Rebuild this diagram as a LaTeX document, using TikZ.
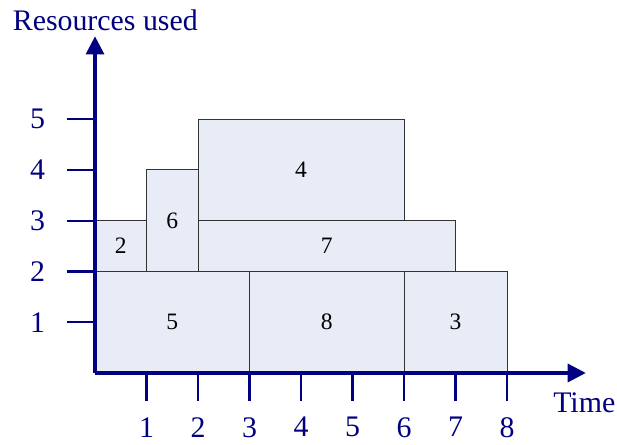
\documentclass[tikz,border=0pt]{standalone}
\usepackage{fontspec}
\setmainfont{Liberation Serif}
\usetikzlibrary{arrows.meta}
\definecolor{axisblue}{RGB}{0,0,128}
\definecolor{jobfill}{RGB}{231,236,247}

\begin{document}
\begin{tikzpicture}[
		x=1cm, y=0.986cm,
		axis/.style={draw=axisblue, line width=1.7pt, -{Triangle[length=10pt,width=10pt]}},
		tick/.style={draw=axisblue, line width=1.2pt},
		axislabel/.style={text=axisblue, font=\fontsize{16.5}{19}\selectfont},
		job/.style={draw=black!80, fill=jobfill, line width=0.5pt},
		joblabel/.style={font=\fontsize{13}{15}\selectfont}
		]
		
		\useasboundingbox (-1.845cm,-1.379cm) rectangle (10.136cm,7.243cm);
		
		% Jobs
		\draw[job] (0,0) rectangle node[joblabel] (job5) {5} (3,2);
		\draw[job] (3,0) rectangle node[joblabel] (job8) {8} (6,2);
		\draw[job] (6,0) rectangle node[joblabel] (job3) {3} (8,2);
		\draw[job] (0,2) rectangle node[joblabel] (job2) {2} (1,3);
		\draw[job] (1,2) rectangle node[joblabel] (job6) {6} (2,4);
		\draw[job] (2,2) rectangle node[joblabel] (job7) {7} (7,3);
		\draw[job] (2,3) rectangle node[joblabel] (job4) {4} (6,5);
		
		% Axes
		\coordinate (origin) at (0,0);
		\coordinate (xend) at (9.53,0);
		\coordinate (yend) at (0,6.63);
		\draw[axis] (origin) -- (xend);
		\draw[axis] (origin) -- (yend);
		
		% Ticks
		\foreach \t in {1,...,8}
		\draw[tick] (\t,0) -- (\t,-0.55) node[axislabel, below=0.18cm] (xtick\t) {\t};
		\foreach \t in {1,...,5}
		\draw[tick] (0,\t) -- (-0.55,\t) node[axislabel, left=0.28cm] (ytick\t) {\t};
		
		% Axis titles
		\node[axislabel] (ytitle) at (0.2,6.95) {Resources used};
		\node[axislabel] (xtitle) at (9.5,-0.59) {Time};
		
	\end{tikzpicture}
\end{document}
